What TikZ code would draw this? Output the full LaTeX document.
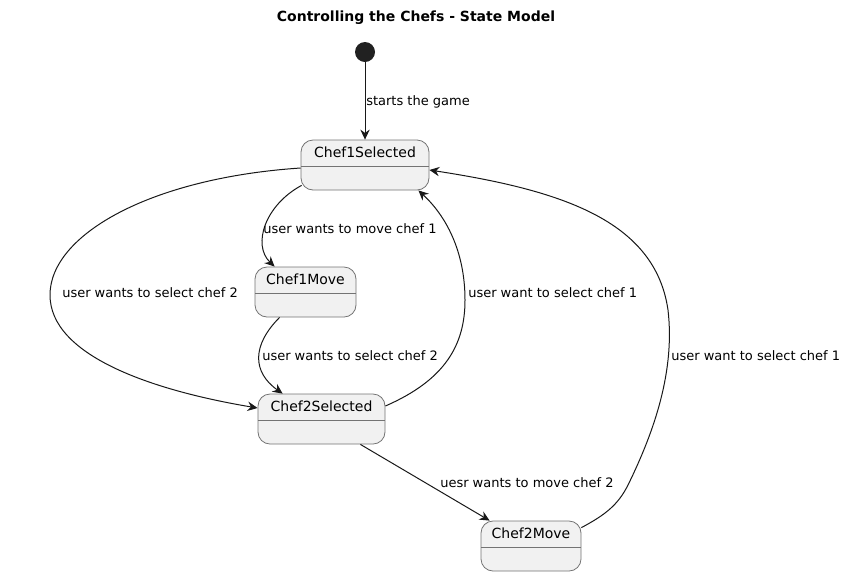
\documentclass[tikz,border=0pt]{standalone}
\usepackage{fontspec}
\setmainfont{DejaVu Sans}
\usepackage{tikz}
\usetikzlibrary{arrows.meta}
\definecolor{statefill}{HTML}{F1F1F1}
\definecolor{lineclr}{HTML}{181818}
\tikzstyle{state} = [draw=black!55, fill=statefill, rectangle, rounded corners=9pt,
line width=0.6pt, inner xsep=0pt, inner ysep=0pt, text height=13pt, text depth=24.5pt,
minimum height=37.5pt, font=\fontsize{10.5}{12}\selectfont,
path picture={\draw[black!55,line width=0.6pt] ([yshift=-19.5pt]path picture bounding box.north west)
  -- ([yshift=-19.5pt]path picture bounding box.north east);}]
\tikzstyle{trans} = [draw=lineclr, line width=0.75pt, -{Stealth[length=7.5pt,width=7pt,inset=2.5pt]}]
\tikzstyle{lbl} = [anchor=west, inner sep=0pt, font=\fontsize{9.75}{12}\selectfont]

\begin{document}
\begin{tikzpicture}[x=0.75pt, y=-0.75pt]
\useasboundingbox (0,0) rectangle (845,576);

\node[font=\fontsize{10.5}{12}\selectfont\bfseries] (title) at (416,18) {Controlling the Chefs - State Model};

\node[circle, fill=black!87, minimum size=15pt, inner sep=0pt] (start) at (365,52) {};

\node [state, minimum width=96pt] (c1s) at (365,165) {Chef1Selected};
\node [state, minimum width=75.75pt] (c1m) at (305.5,292) {Chef1Move};
\node [state, minimum width=95.25pt] (c2s) at (321.5,419) {Chef2Selected};
\node [state, minimum width=75pt] (c2m) at (531,546) {Chef2Move};

\draw [trans] (start) -- (c1s);
\draw [trans] ([yshift=-2.25pt]c1s.west) .. controls (150,178) and (50,235) .. (50,295)
  .. controls (50,355) and (150,390) .. ([yshift=8.25pt]c2s.west);
\draw [trans] ([shift={(0.75pt,3.75pt)}]c1s.south west) .. controls (265,205) and (252,245) .. ([xshift=15pt]c1m.north west);
\draw [trans] ([xshift=18.75pt]c1m.south west) .. controls (252,345) and (252,372) .. ([xshift=18.75pt]c2s.north west);
\draw [trans] ([yshift=9.75pt]c2s.east) .. controls (445,380) and (465,345) .. (465,300)
  .. controls (465,250) and (445,215) .. ([xshift=-8.25pt]c1s.south east);
\draw [trans] ([xshift=-18.75pt]c2s.south east) -- ([xshift=6.75pt]c2m.north west);
\draw [trans] ([yshift=-5.25pt]c2m.north east) .. controls (605,515) and (618,505) .. (628,485)
  .. controls (655,430) and (675,370) .. (668,310)
  .. controls (655,220) and (560,190) .. ([yshift=-3.75pt]c1s.east);

\node [lbl] (l1) at (366,102) {starts the game};
\node [lbl] (l2) at (62,293) {user wants to select chef 2};
\node [lbl] (l3) at (263,229) {user wants to move chef 1};
\node [lbl] (l4) at (262,356) {user wants to select chef 2};
\node [lbl] (l5) at (468,293) {user want to select chef 1};
\node [lbl] (l6) at (440,483) {uesr wants to move chef 2};
\node [lbl] (l7) at (671,356) {user want to select chef 1};
\end{tikzpicture}
\end{document}
